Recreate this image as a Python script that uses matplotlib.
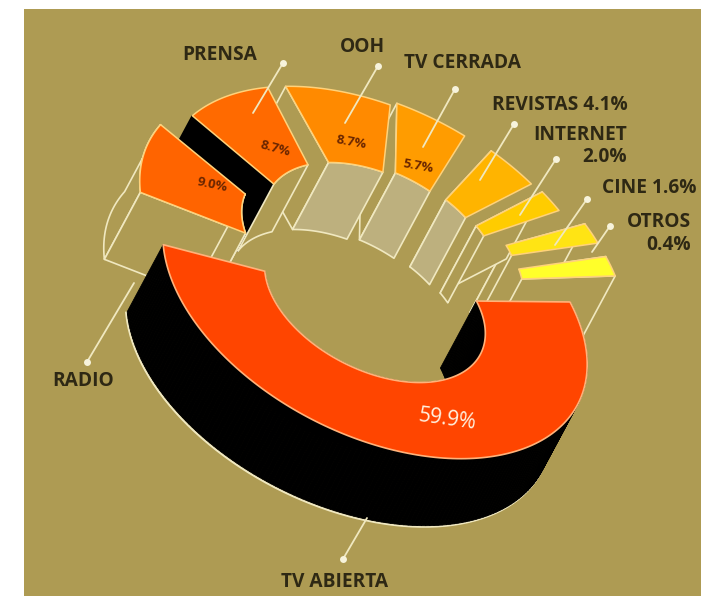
import numpy as np
from matplotlib import pyplot as plt
from matplotlib.patches import Polygon, Rectangle

# share of advertising spend, in percent
media = ["RADIO", "PRENSA", "OOH", "TV CERRADA", "REVISTAS", "INTERNET", "CINE", "OTROS"]
shares = [9.0, 8.7, 8.7, 5.7, 4.1, 2.0, 1.6, 0.4]
share_labels = ["9.0%", "8.7%", "8.7%", "5.7%"]
main_medium = "TV ABIERTA"
main_share = 59.9
main_label = "59.9%"

BG = "#ae9b53"
CREAM = "#f0e8c0"
LIGHT_WALL = "#bdb07e"
DARK = "#2e2814"
top_colors = ["#ff6400", "#ff6a00", "#ff8a00", "#ff9c00", "#ffb400", "#ffcc00", "#ffe414", "#ffff2a"]
wall_colors = [BG, BG, LIGHT_WALL, LIGHT_WALL, LIGHT_WALL, BG, BG, BG]
explode = [0.12, 0.0, 0.0, 0.03, 0.05, 0.07, 0.16, 0.18]
# angle left free after each slice, and how far its outer arc slides against the inner one
gaps = [0, 7, 9, 3, 6.5, 3, 3, 3]
lean = [5.5, 3.5, 0, -2, -2, -3, -3, -4]
MAIN_RED = "#ff4500"

A, B, TILT = 228.0, 135.0, np.radians(27)
INNER = 0.52
MAIN_CENTER = np.array([375.0, 300.0])
UPPER_CENTER = np.array([375.0, 245.0])
DEPTH = np.array([-36.0, 67.0])
ANGLE_SCALE = 3.6 * 0.926
MIN_SWEEP = 7.0


def rotate(u, v):
    return u * np.cos(TILT) - v * np.sin(TILT), u * np.sin(TILT) + v * np.cos(TILT)


def ring(t, r, center):
    t = np.radians(np.asarray(t, dtype=float))
    x, y = rotate(A * r * np.cos(t), B * r * np.sin(t))
    return np.column_stack([center[0] + x, center[1] + y])


def poly(ax, pts, fc, ec=CREAM, lw=1.2, z=1):
    ax.add_patch(Polygon(pts, closed=True, fc=fc, ec=ec, lw=lw, zorder=z, joinstyle="round"))


fig = plt.figure(figsize=(7.01, 5.96), dpi=100)
ax = fig.add_axes([0, 0, 1, 1])
ax.set_xlim(0, 701)
ax.set_ylim(596, 0)
ax.axis("off")
ax.add_patch(Rectangle((24, 9), 677, 587, fc=BG, ec="none", zorder=0))

# upper group, running anticlockwise from the small slices on the right
t = -30.5
rows = list(zip(media, shares, top_colors, wall_colors, explode, gaps, lean))
for name, share, color, wall, push, gap, slide in reversed(rows):
    sweep = max(share * ANGLE_SCALE, MIN_SWEEP)
    t0, t1 = t - sweep, t
    t = t0 - gap
    # the push follows the lean of the slice, not just its middle
    away = np.radians((t0 + t1) / 2 - 5.5 * slide)
    center = UPPER_CENTER + np.array(rotate(A * push * np.cos(away), B * push * np.sin(away)))
    ts = np.linspace(t0, t1, 30)
    outer = ring(ts + slide, 1.0, center)
    inner = ring(ts - slide, INNER, center)

    if name == "RADIO":
        poly(ax, np.vstack([outer, (outer + DEPTH)[::-1]]), BG, z=2)
    if name == "OTROS":
        poly(ax, [outer[-1], inner[-1], inner[-1] + DEPTH, outer[-1] + DEPTH], BG, z=4)
    black = name == "PRENSA"
    poly(ax, [outer[0], inner[0], inner[0] + DEPTH, outer[0] + DEPTH],
         "black" if black else BG, ec="black" if black else CREAM, z=3)
    poly(ax, np.vstack([inner, (inner + DEPTH)[::-1]]), wall, z=3)
    poly(ax, np.vstack([outer, inner[::-1]]), color, ec="#ffd27a", lw=1.1, z=5)

# main slice: black extrusion first, red face over it
t_start = -40.0
t_end = t_start + main_share * ANGLE_SCALE
ts = np.linspace(t_start, t_end, 160)
outer = ring(ts, 1.0, MAIN_CENTER)
inner = ring(ts, INNER, MAIN_CENTER)
ax.plot(*(outer + DEPTH + [-1, 1]).T, color=CREAM, lw=1.6, zorder=6)
for arc in (outer, inner):
    for p, q in zip(arc[:-1], arc[1:]):
        poly(ax, [p, q, q + DEPTH, p + DEPTH], "black", ec="black", lw=0.6, z=7)
poly(ax, np.vstack([outer, inner[::-1]]), MAIN_RED, ec="#ffb27a", lw=1.2, z=8)

# leader lines and their dots
leader_from = [(87, 362), (283, 63), (378, 66), (455, 89), (514, 124), (556, 159), (587, 199), (610, 226), (343, 559)]
leader_to = [(134, 283), (253, 113), (345, 123), (423, 147), (480, 180), (520, 215), (555, 245), (592, 252), (367, 518)]
for p, q in zip(leader_from, leader_to):
    ax.plot([p[0], q[0]], [p[1], q[1]], color=CREAM, lw=1.3, zorder=9, solid_capstyle="round")
    ax.plot(*p, "o", color="#f7f3dc", ms=5, mec="none", zorder=10)

font = dict(family="Open Sans", weight="bold", color=DARK, fontsize=13.8, zorder=11)
ax.text(83, 381, media[0], ha="center", va="center", **font)
ax.text(220, 55, media[1], ha="center", va="center", **font)
ax.text(362, 47, media[2], ha="center", va="center", **font)
ax.text(462, 63, media[3], ha="center", va="center", **font)
ax.text(560, 105, f"{media[4]} {shares[4]}%", ha="center", va="center", **font)
ax.text(627, 135, media[5], ha="right", va="center", **font)
ax.text(627, 157, f"{shares[5]}%", ha="right", va="center", **font)
ax.text(697, 188, f"{media[6]} {shares[6]}%", ha="right", va="center", **font)
ax.text(691, 222, media[7], ha="right", va="center", **font)
ax.text(691, 245, f"{shares[7]}%", ha="right", va="center", **font)
ax.text(335, 582, main_medium, ha="center", va="center", **font)

small = dict(family="Open Sans", weight="bold", color="#6a2600", fontsize=9.5, zorder=11,
             ha="center", va="center")
ax.text(212, 185, share_labels[0], rotation=-12, **small)
ax.text(275, 149, share_labels[1], rotation=-15, **small)
ax.text(351, 142, share_labels[2], rotation=-10, **small)
ax.text(418, 166, share_labels[3], rotation=-10, **small)
ax.text(447, 420, main_label, rotation=-8, family="Open Sans", color="#fff2e0",
        fontsize=15, ha="center", va="center", zorder=11)

fig.savefig("out.png", dpi=100, facecolor="white")
plt.close()
